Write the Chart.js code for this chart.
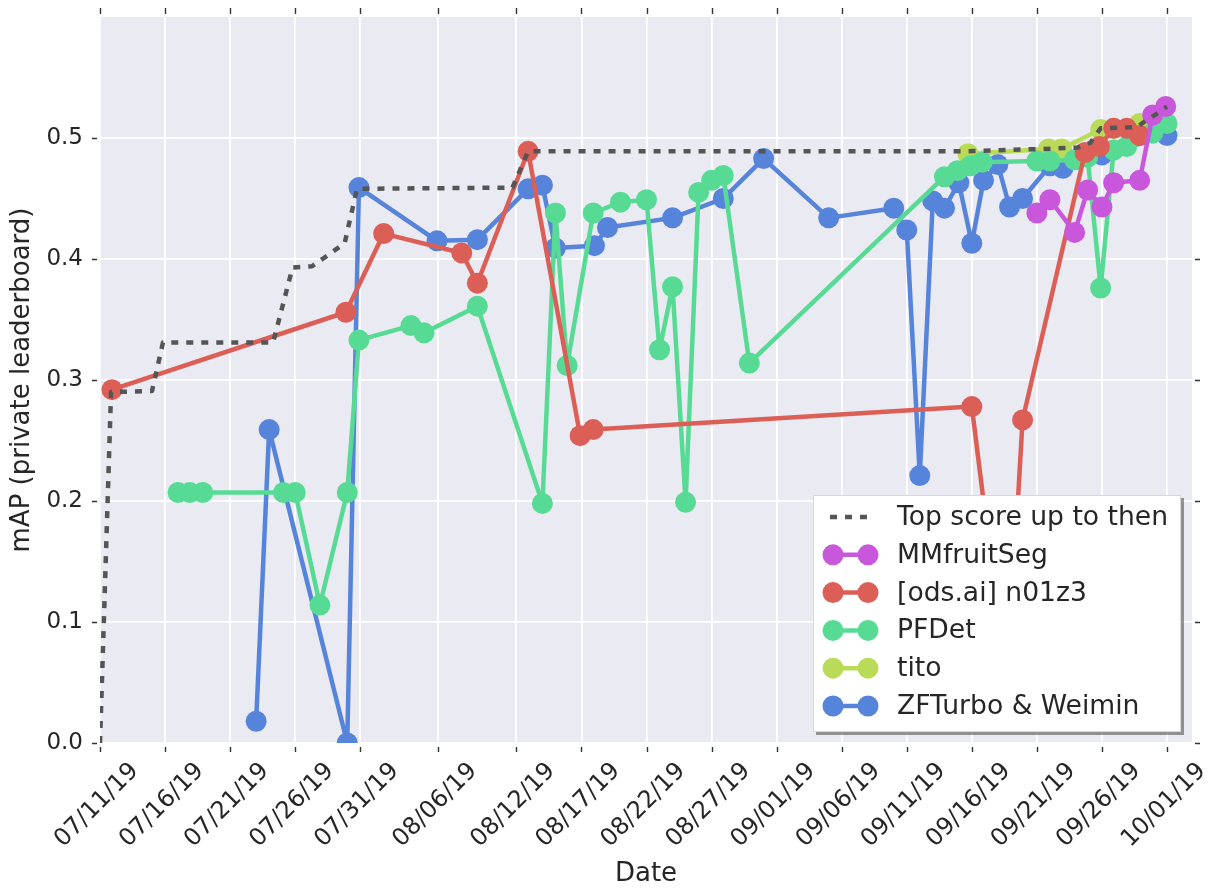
<!DOCTYPE html>
<html>
<head>
<meta charset="utf-8">
<title>mAP over time</title>
<script src="https://cdn.jsdelivr.net/npm/chart.js@4/dist/chart.umd.min.js"></script>
<style>
  html, body { margin: 0; padding: 0; background: #ffffff; }
  #wrap { width: 1213px; height: 888px; }
</style>
</head>
<body>
<div id="wrap"><canvas id="c" width="1213" height="888"></canvas></div>
<script>
// Dates are stored as days elapsed since 07/11/19 (fractional days = time of day).
const xTickLabels = ['07/11/19', '07/16/19', '07/21/19', '07/26/19', '07/31/19', '08/06/19',
  '08/12/19', '08/17/19', '08/22/19', '08/27/19', '09/01/19', '09/06/19', '09/11/19',
  '09/16/19', '09/21/19', '09/26/19', '10/01/19'];
const yTickValues = [0.0, 0.1, 0.2, 0.3, 0.4, 0.5];

const topDays = [0.0, 0.85, 4.0, 4.84, 13.3, 14.8, 16.3, 18.8, 19.75, 31.7, 32.9, 66.7, 72.5, 75.1, 76.1, 76.9, 79.7, 80.2, 81.2, 82.0];
const topMap  = [0.000, 0.290, 0.291, 0.331, 0.331, 0.393, 0.394, 0.413, 0.458, 0.459, 0.489, 0.489, 0.491, 0.492, 0.496, 0.508, 0.509, 0.513, 0.520, 0.526];

const mmDays = [72.0, 73.0, 74.9, 75.9, 77.0, 77.9, 79.9, 80.9, 81.9];
const mmMap  = [0.438, 0.449, 0.422, 0.457, 0.443, 0.463, 0.465, 0.519, 0.526];

const odsDays = [0.92, 18.9, 21.8, 27.8, 29.0, 32.9, 36.9, 37.9, 67.0, 69.7, 70.9, 75.7, 76.8, 77.9, 78.9, 79.9];
const odsMap  = [0.292, 0.356, 0.421, 0.405, 0.380, 0.489, 0.254, 0.259, 0.278, 0.044, 0.267, 0.488, 0.493, 0.508, 0.508, 0.502];

const pfDays = [6.0, 6.9, 7.9, 14.1, 15.0, 16.9, 19.0, 19.9, 23.9, 24.9, 29.0, 34.0, 35.0, 35.9, 37.9, 40.0, 42.0, 43.0, 44.0, 45.0, 46.0, 47.0, 47.9, 49.9,
  64.9, 65.9, 66.9, 67.8, 72.0, 73.0, 74.9, 75.9, 76.9, 77.9, 78.9, 80.9, 82.0];
const pfMap  = [0.207, 0.207, 0.207, 0.207, 0.207, 0.114, 0.207, 0.333, 0.345, 0.339, 0.361, 0.198, 0.438, 0.312, 0.438, 0.447, 0.449, 0.325, 0.377, 0.199, 0.455, 0.465, 0.469, 0.314,
  0.468, 0.473, 0.477, 0.480, 0.481, 0.481, 0.482, 0.484, 0.376, 0.490, 0.493, 0.504, 0.512];

const titoDays = [66.7, 72.9, 73.9, 76.9, 77.9, 79.9];
const titoMap  = [0.487, 0.491, 0.491, 0.507, 0.508, 0.512];

const zfDays = [12.0, 13.0, 19.0, 19.9, 25.9, 29.0, 32.9, 34.0, 35.0, 38.0, 39.0, 44.0, 47.9, 51.0, 56.0, 61.0, 62.0, 63.0, 64.0, 64.9,
  66.0, 67.0, 67.9, 69.0, 69.9, 70.9, 73.0, 74.0, 77.0, 82.0];
const zfMap  = [0.018, 0.259, 0.000, 0.459, 0.415, 0.416, 0.458, 0.461, 0.409, 0.411, 0.426, 0.434, 0.450, 0.483, 0.434, 0.442, 0.424, 0.221, 0.448, 0.442,
  0.463, 0.413, 0.465, 0.478, 0.443, 0.450, 0.477, 0.475, 0.486, 0.502];

const seriesNames = ['Top score up to then', 'MMfruitSeg', '[ods.ai] n01z3', 'PFDet', 'tito', 'ZFTurbo & Weimin'];
const seriesColors = ['#555555', '#c957db', '#db5f57', '#57db94', '#b9db57', '#5784db'];

// tick positions derived from the label dates
function dayOf(label) {
  const [m, d, y] = label.split('/').map(Number);
  return (Date.UTC(2000 + y, m - 1, d) - Date.UTC(2019, 6, 11)) / 86400000;
}
const xTickDays = xTickLabels.map(dayOf);

const FONT = 'DejaVu Sans';
const TEXT = '#262626';

function pts(days, vals) { return days.map((d, i) => ({ x: d, y: vals[i] })); }

function teamSet(idx, days, vals) {
  return {
    label: seriesNames[idx],
    data: pts(days, vals),
    borderColor: seriesColors[idx],
    backgroundColor: seriesColors[idx],
    borderWidth: 4.5,
    borderJoinStyle: 'round',
    borderCapStyle: 'round',
    pointRadius: 10.5,
    pointHoverRadius: 10.5,
    pointBorderWidth: 0,
    tension: 0,
    clip: 0
  };
}

const datasets = [
  {
    label: seriesNames[0],
    data: pts(topDays, topMap),
    borderColor: seriesColors[0],
    borderWidth: 4.5,
    borderDash: [7, 8],
    borderJoinStyle: 'round',
    pointRadius: 0,
    pointHoverRadius: 0,
    tension: 0,
    clip: 0
  },
  teamSet(1, mmDays, mmMap),
  teamSet(2, odsDays, odsMap),
  teamSet(3, pfDays, pfMap),
  teamSet(4, titoDays, titoMap),
  teamSet(5, zfDays, zfMap)
];

// plot background
const panelBg = {
  id: 'panelBg',
  beforeDraw(chart) {
    const { ctx, chartArea: a } = chart;
    ctx.save();
    ctx.fillStyle = '#ffffff';
    ctx.fillRect(0, 0, chart.width, chart.height);
    ctx.fillStyle = '#eaeaf2';
    ctx.fillRect(a.left, a.top, a.right - a.left, a.bottom - a.top);
    ctx.restore();
  }
};

// small outward tick marks on all four sides
const sideTicks = {
  id: 'sideTicks',
  afterDraw(chart) {
    const { ctx, chartArea: a, scales } = chart;
    ctx.save();
    ctx.strokeStyle = '#333333';
    ctx.lineWidth = 1.4;
    ctx.beginPath();
    scales.x.ticks.forEach(t => {
      const x = Math.round(scales.x.getPixelForValue(t.value)) + 0.5;
      ctx.moveTo(x, a.bottom + 4); ctx.lineTo(x, a.bottom + 9);
      ctx.moveTo(x, a.top - 9); ctx.lineTo(x, a.top - 3);
    });
    scales.y.ticks.forEach(t => {
      const y = Math.round(scales.y.getPixelForValue(t.value)) + 0.5;
      ctx.moveTo(a.left - 8, y); ctx.lineTo(a.left - 3, y);
      ctx.moveTo(a.right + 3, y); ctx.lineTo(a.right + 8, y);
    });
    ctx.stroke();
    ctx.restore();
  }
};

// legend box with two-marker handles
const boxLegend = {
  id: 'boxLegend',
  afterDraw(chart) {
    const { ctx } = chart;
    const bx = 813, by = 495, bw = 368, bh = 237;
    ctx.save();
    ctx.fillStyle = 'rgba(70,70,70,0.55)';
    ctx.fillRect(bx + 3, by + 3, bw, bh);
    ctx.fillStyle = '#ffffff';
    ctx.fillRect(bx, by, bw, bh);
    ctx.strokeStyle = '#d8d8d8';
    ctx.lineWidth = 1;
    ctx.strokeRect(bx + 0.5, by + 0.5, bw - 1, bh - 1);

    const x1 = 833, x2 = 868, textX = 897;
    const rowY0 = 517, rowStep = 37.8;
    ctx.font = '26.6px "' + FONT + '"';
    ctx.textBaseline = 'middle';
    ctx.textAlign = 'left';
    chart.data.datasets.forEach((ds, i) => {
      const y = rowY0 + i * rowStep;
      ctx.strokeStyle = ds.borderColor;
      ctx.lineWidth = 4.5;
      ctx.setLineDash(ds.borderDash || []);
      ctx.beginPath();
      if (ds.borderDash) {
        ctx.moveTo(x1 - 3, y); ctx.lineTo(x2 + 3, y);
      } else {
        ctx.moveTo(x1, y); ctx.lineTo(x2, y);
      }
      ctx.stroke();
      ctx.setLineDash([]);
      if (ds.pointRadius > 0) {
        ctx.fillStyle = ds.backgroundColor;
        [x1, x2].forEach(px => {
          ctx.beginPath();
          ctx.arc(px, y, ds.pointRadius, 0, Math.PI * 2);
          ctx.fill();
        });
      }
      ctx.fillStyle = TEXT;
      ctx.fillText(ds.label, textX, y + 1);
    });
    ctx.restore();
  }
};

new Chart(document.getElementById('c'), {
  type: 'line',
  data: { datasets },
  plugins: [panelBg, sideTicks, boxLegend],
  options: {
    responsive: false,
    animation: false,
    events: [],
    layout: { padding: { top: 17, right: 21, bottom: 0, left: 0 } },
    plugins: { legend: { display: false }, tooltip: { enabled: false } },
    scales: {
      x: {
        type: 'linear',
        min: 0,
        max: 83.92,
        afterBuildTicks: axis => { axis.ticks = xTickDays.map(v => ({ value: v })); },
        afterFit: s => { s.height = 145; s.paddingLeft = 0; s.paddingRight = 0; },
        ticks: {
          autoSkip: false,
          minRotation: 45,
          maxRotation: 45,
          labelOffset: 35,
          padding: 14,
          color: TEXT,
          font: { family: FONT, size: 24 },
          callback: (v, i) => xTickLabels[i]
        },
        grid: { color: '#ffffff', lineWidth: 1.8, drawTicks: false },
        border: { display: false },
        title: {
          display: true, text: 'Date', color: TEXT,
          font: { family: FONT, size: 26, lineHeight: 1 },
          padding: { top: 0, bottom: 1 }
        }
      },
      y: {
        min: 0,
        max: 0.6,
        afterBuildTicks: axis => { axis.ticks = yTickValues.map(v => ({ value: v })); },
        afterFit: s => { s.width = 100; s.paddingTop = 0; s.paddingBottom = 0; },
        ticks: {
          padding: 17,
          color: TEXT,
          font: { family: FONT, size: 23 },
          callback: v => Number(v).toFixed(1)
        },
        grid: { color: '#ffffff', lineWidth: 1.8, drawTicks: false },
        border: { display: false },
        title: {
          display: true, text: 'mAP (private leaderboard)', color: TEXT,
          font: { family: FONT, size: 26, lineHeight: 1 },
          padding: { top: 9, bottom: 0 }
        }
      }
    }
  }
});
</script>
</body>
</html>
